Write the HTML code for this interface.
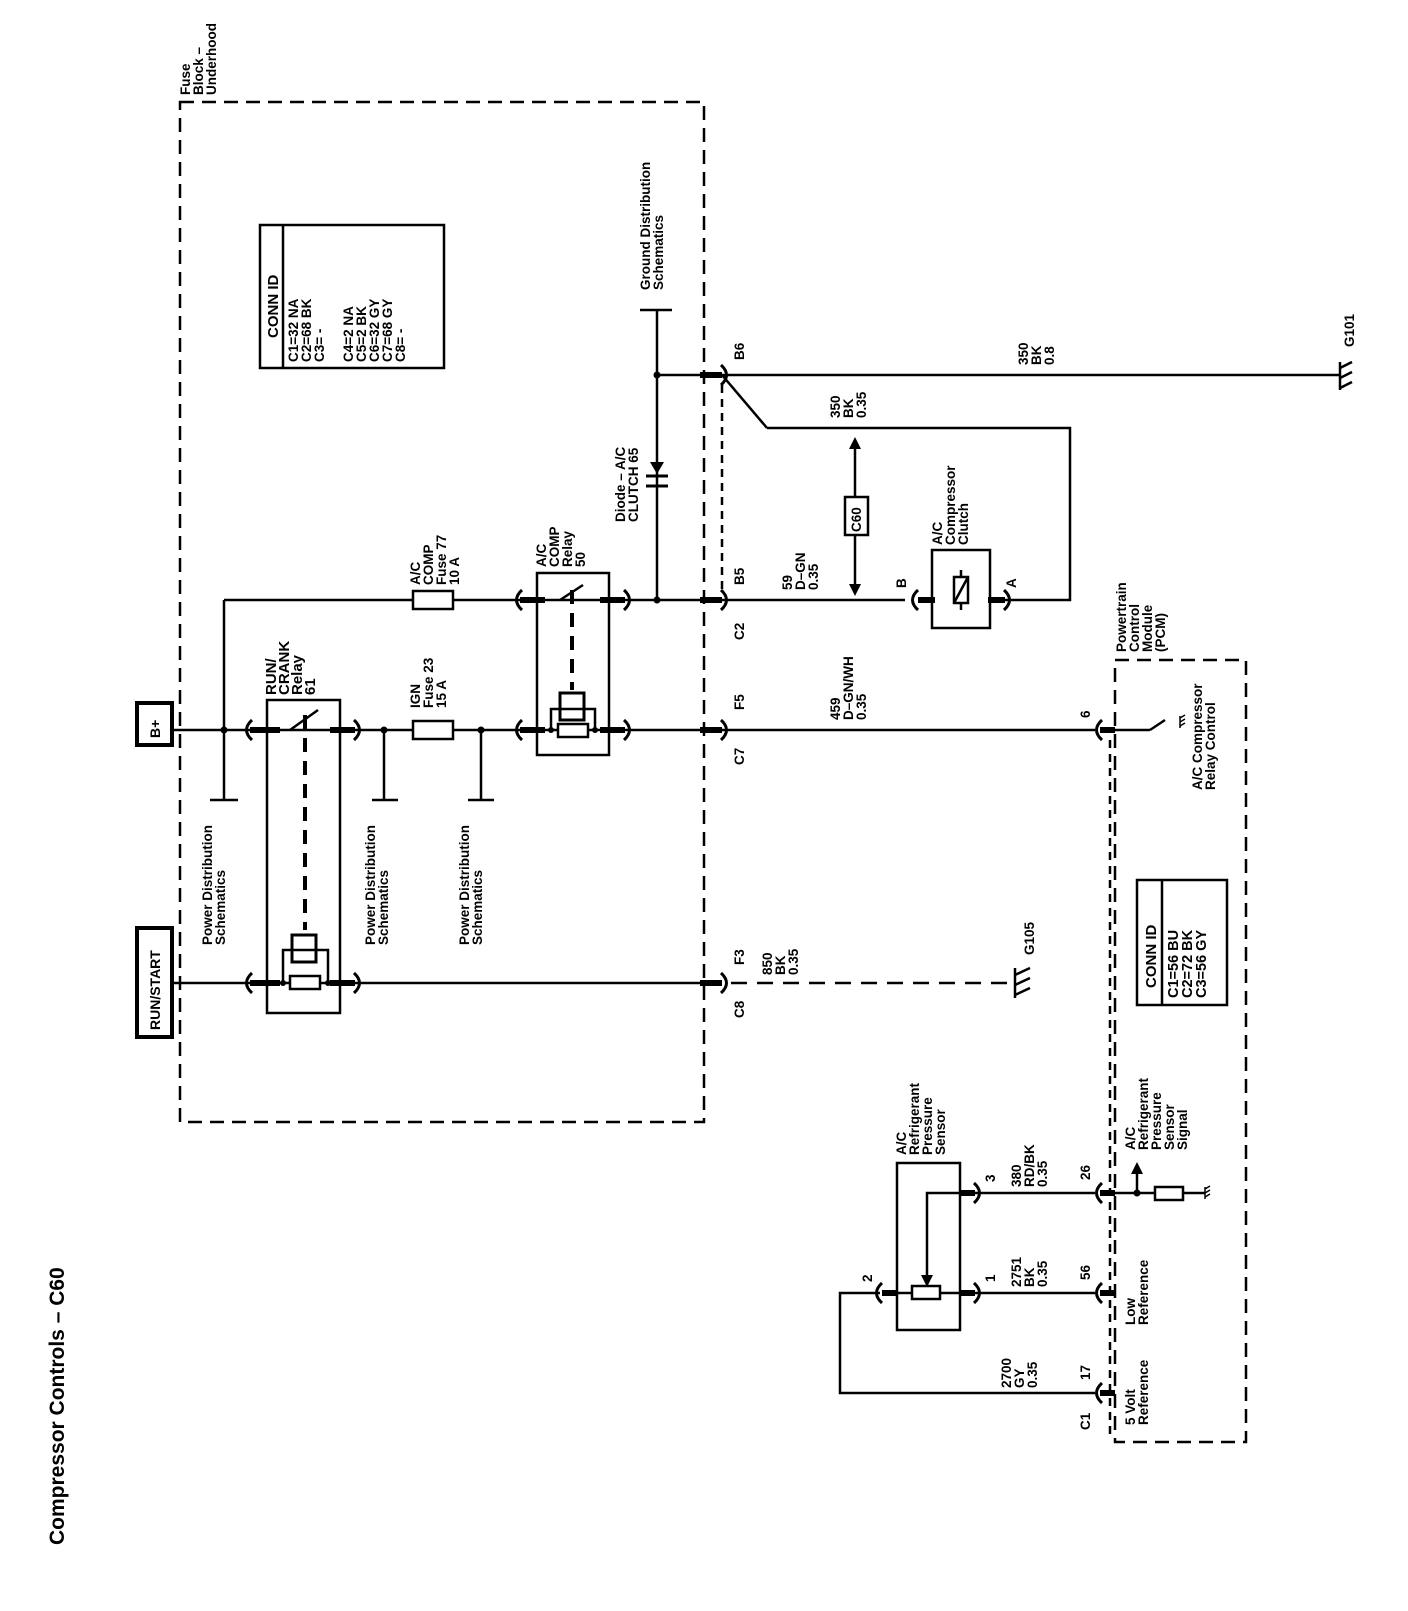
<!DOCTYPE html>
<html><head><meta charset="utf-8"><style>
html,body{margin:0;padding:0;background:#fff}
svg text{font-family:"Liberation Sans",sans-serif;font-size:13.5px;fill:#000;font-weight:bold}
</style></head><body>
<svg width="1408" height="1606" viewBox="0 0 1408 1606" xmlns="http://www.w3.org/2000/svg">
<defs>
<g id="cl"><path d="M6,-10 Q-5,0 6,10" fill="none" stroke="#000" stroke-width="3"/></g>
<g id="cr"><path d="M-6,-10 Q5,0 -6,10" fill="none" stroke="#000" stroke-width="3"/></g>
</defs>
<g fill="none" stroke="#000" stroke-width="2.5">
<rect x="180" y="102" width="524" height="1020" stroke-dasharray="14,8"/>
<rect x="1115" y="660" width="131" height="782" stroke-dasharray="14,8"/>
<rect x="137" y="703" width="35" height="42" stroke-width="4"/>
<rect x="137" y="928" width="35" height="109" stroke-width="4"/>
<rect x="260" y="225" width="184" height="143"/>
<line x1="283" y1="225" x2="283" y2="368"/>
<rect x="267" y="700" width="73" height="313"/>
<rect x="537" y="573" width="72" height="182"/>
<rect x="932" y="550" width="58" height="78"/>
<rect x="1137" y="880" width="90" height="125"/>
<line x1="1162" y1="880" x2="1162" y2="1005"/>
<rect x="897" y="1163" width="63" height="167"/>
<rect x="845" y="497" width="23" height="38"/>
<line x1="172" y1="730" x2="1095" y2="730"/>
<line x1="172" y1="983" x2="705" y2="983"/>
<line x1="705" y1="983" x2="1010" y2="983" stroke-dasharray="16,10"/>
<line x1="224" y1="600" x2="905" y2="600"/>
<line x1="224" y1="600" x2="224" y2="800"/>
<line x1="210" y1="800" x2="238" y2="800"/>
<line x1="384" y1="730" x2="384" y2="800"/>
<line x1="372" y1="800" x2="398" y2="800"/>
<line x1="481" y1="730" x2="481" y2="800"/>
<line x1="468" y1="800" x2="494" y2="800"/>
<line x1="655" y1="375" x2="1340" y2="375"/>
<line x1="657" y1="310" x2="657" y2="600"/>
<line x1="640" y1="310" x2="672" y2="310"/>
<line x1="722" y1="375" x2="767" y2="428"/>
<polyline points="767,428 1070,428 1070,600 1000,600"/>
<line x1="722" y1="385" x2="722" y2="590" stroke-dasharray="8,6"/>
<line x1="1110" y1="740" x2="1110" y2="1440" stroke-dasharray="8,6"/>
<line x1="855" y1="445" x2="855" y2="497"/>
<line x1="855" y1="535" x2="855" y2="588"/>
<line x1="305" y1="715" x2="305" y2="930" stroke-dasharray="14,9" stroke-width="4"/>
<line x1="572" y1="590" x2="572" y2="690" stroke-dasharray="14,9" stroke-width="4"/>
<line x1="290" y1="730" x2="318" y2="710"/>
<line x1="560" y1="600" x2="583" y2="585"/>
<rect x="292" y="935" width="24" height="27" stroke-width="3"/>
<rect x="560" y="693" width="24" height="27" stroke-width="3"/>
<polyline points="283,983 283,950 328,950 328,983"/>
<polyline points="551,730 551,709 595,709 595,730"/>
<rect x="290" y="976" width="30" height="13" fill="#fff"/>
<rect x="558" y="724" width="30" height="13" fill="#fff"/>
<rect x="413" y="591" width="40" height="18" fill="#fff"/>
<rect x="413" y="721" width="40" height="18" fill="#fff"/>
<line x1="961" y1="570" x2="961" y2="610"/>
<rect x="954" y="577" width="14" height="26" fill="#fff"/>
<line x1="954" y1="603" x2="968" y2="577"/>
<line x1="960" y1="1193" x2="1095" y2="1193"/>
<line x1="960" y1="1293" x2="1095" y2="1293"/>
<polyline points="880,1293 840,1293 840,1393 1095,1393"/>
<polyline points="960,1193 927,1193 927,1280"/>
<rect x="912" y="1286" width="28" height="13" fill="#fff"/>
<line x1="897" y1="1293" x2="912" y2="1293"/>
<line x1="940" y1="1293" x2="960" y2="1293"/>
<line x1="1110" y1="730" x2="1150" y2="730"/>
<line x1="1150" y1="730" x2="1165" y2="720"/>
<line x1="1110" y1="1193" x2="1155" y2="1193"/>
<rect x="1155" y="1187" width="28" height="13"/>
<line x1="1183" y1="1193" x2="1205" y2="1193"/>
<line x1="1137" y1="1193" x2="1137" y2="1170"/>
<line x1="1340" y1="362" x2="1340" y2="390"/>
<line x1="1340" y1="368" x2="1352" y2="362"/><line x1="1340" y1="378" x2="1352" y2="372"/><line x1="1340" y1="388" x2="1352" y2="382"/>
<line x1="1015" y1="968" x2="1015" y2="998"/>
<line x1="1015" y1="975" x2="1030" y2="968"/><line x1="1015" y1="985" x2="1030" y2="978"/><line x1="1015" y1="995" x2="1030" y2="988"/>
<g stroke-width="1.5">
<line x1="1180" y1="716" x2="1180" y2="728"/><line x1="1180" y1="718" x2="1185" y2="715"/><line x1="1180" y1="722" x2="1185" y2="719"/><line x1="1180" y1="726" x2="1185" y2="723"/>
<line x1="1205" y1="1187" x2="1205" y2="1199"/><line x1="1205" y1="1189" x2="1210" y2="1186"/><line x1="1205" y1="1193" x2="1210" y2="1190"/><line x1="1205" y1="1197" x2="1210" y2="1194"/>
</g>
</g>
<polygon points="855,437 849,449 861,449"/>
<polygon points="855,596 849,584 861,584"/>
<polygon points="927,1287 921,1275 933,1275"/>
<polygon points="1137,1162 1131,1174 1143,1174"/>
<polygon points="650,462 664,462 657,474"/>
<line x1="646" y1="476" x2="668" y2="476" stroke="#000" stroke-width="3"/>
<line x1="646" y1="486" x2="668" y2="486" stroke="#000" stroke-width="3"/>
<g fill="#000">
<circle cx="224" cy="730" r="3.5"/><circle cx="384" cy="730" r="3.5"/><circle cx="481" cy="730" r="3.5"/>
<circle cx="657" cy="600" r="3.5"/><circle cx="657" cy="375" r="3.5"/><circle cx="1137" cy="1193" r="3.5"/>
<circle cx="283" cy="983" r="3"/><circle cx="328" cy="983" r="3"/><circle cx="551" cy="730" r="3"/><circle cx="595" cy="730" r="3"/>
</g>
<g stroke="#000" stroke-width="6">
<line x1="250" y1="730" x2="280" y2="730"/><line x1="330" y1="730" x2="355" y2="730"/>
<line x1="250" y1="983" x2="280" y2="983"/><line x1="330" y1="983" x2="355" y2="983"/>
<line x1="520" y1="600" x2="545" y2="600"/><line x1="600" y1="600" x2="625" y2="600"/>
<line x1="520" y1="730" x2="545" y2="730"/><line x1="600" y1="730" x2="625" y2="730"/>
<line x1="700" y1="375" x2="722" y2="375"/><line x1="700" y1="600" x2="722" y2="600"/>
<line x1="700" y1="730" x2="722" y2="730"/><line x1="700" y1="983" x2="722" y2="983"/>
<line x1="918" y1="600" x2="935" y2="600"/><line x1="988" y1="600" x2="1005" y2="600"/>
<line x1="1100" y1="730" x2="1115" y2="730"/><line x1="1100" y1="1193" x2="1115" y2="1193"/>
<line x1="1100" y1="1293" x2="1115" y2="1293"/><line x1="1100" y1="1393" x2="1115" y2="1393"/>
<line x1="960" y1="1193" x2="975" y2="1193"/><line x1="960" y1="1293" x2="975" y2="1293"/>
<line x1="882" y1="1293" x2="897" y2="1293"/>
</g>
<use href="#cl" x="246" y="730"/><use href="#cr" x="360" y="730"/>
<use href="#cl" x="246" y="983"/><use href="#cr" x="360" y="983"/>
<use href="#cl" x="516" y="600"/><use href="#cr" x="630" y="600"/>
<use href="#cl" x="516" y="730"/><use href="#cr" x="630" y="730"/>
<use href="#cr" x="727" y="375"/><use href="#cr" x="727" y="600"/><use href="#cr" x="727" y="730"/><use href="#cr" x="727" y="983"/>
<use href="#cl" x="912" y="600"/><use href="#cr" x="1010" y="600"/>
<use href="#cl" x="1096" y="730"/><use href="#cl" x="1096" y="1193"/><use href="#cl" x="1096" y="1293"/><use href="#cl" x="1096" y="1393"/>
<use href="#cr" x="980" y="1193"/><use href="#cr" x="980" y="1293"/><use href="#cl" x="876" y="1293"/>
<text transform="translate(64,1545) rotate(-90)" style="font-size:21px">Compressor Controls – C60</text>
<text transform="translate(190,95) rotate(-90)">Fuse</text>
<text transform="translate(203,95) rotate(-90)">Block –</text>
<text transform="translate(216,95) rotate(-90)">Underhood</text>
<text transform="translate(160,738) rotate(-90)" style="font-size:14px">B+</text>
<text transform="translate(160,1030) rotate(-90)" style="font-size:14px">RUN/START</text>
<text transform="translate(278,338) rotate(-90)" style="font-size:15px">CONN ID</text>
<text transform="translate(298,362) rotate(-90)">C1=32 NA</text>
<text transform="translate(311,362) rotate(-90)">C2=68 BK</text>
<text transform="translate(324,362) rotate(-90)">C3= -</text>
<text transform="translate(353,362) rotate(-90)">C4=2 NA</text>
<text transform="translate(366,362) rotate(-90)">C5=2 BK</text>
<text transform="translate(379,362) rotate(-90)">C6=32 GY</text>
<text transform="translate(392,362) rotate(-90)">C7=68 GY</text>
<text transform="translate(405,362) rotate(-90)">C8= -</text>
<text transform="translate(212,945) rotate(-90)">Power Distribution</text>
<text transform="translate(225,945) rotate(-90)">Schematics</text>
<text transform="translate(375,945) rotate(-90)">Power Distribution</text>
<text transform="translate(388,945) rotate(-90)">Schematics</text>
<text transform="translate(469,945) rotate(-90)">Power Distribution</text>
<text transform="translate(482,945) rotate(-90)">Schematics</text>
<text transform="translate(276,695) rotate(-90)" style="font-size:15px">RUN/</text>
<text transform="translate(289,695) rotate(-90)" style="font-size:15px">CRANK</text>
<text transform="translate(302,695) rotate(-90)" style="font-size:15px">Relay</text>
<text transform="translate(315,695) rotate(-90)" style="font-size:15px">61</text>
<text transform="translate(420,708) rotate(-90)">IGN</text>
<text transform="translate(433,708) rotate(-90)">Fuse 23</text>
<text transform="translate(446,708) rotate(-90)">15 A</text>
<text transform="translate(420,585) rotate(-90)">A/C</text>
<text transform="translate(433,585) rotate(-90)">COMP</text>
<text transform="translate(446,585) rotate(-90)">Fuse 77</text>
<text transform="translate(459,585) rotate(-90)">10 A</text>
<text transform="translate(546,567) rotate(-90)">A/C</text>
<text transform="translate(559,567) rotate(-90)">COMP</text>
<text transform="translate(572,567) rotate(-90)">Relay</text>
<text transform="translate(585,567) rotate(-90)">50</text>
<text transform="translate(625,522) rotate(-90)">Diode – A/C</text>
<text transform="translate(638,522) rotate(-90)">CLUTCH 65</text>
<text transform="translate(650,290) rotate(-90)">Ground Distribution</text>
<text transform="translate(663,290) rotate(-90)">Schematics</text>
<text transform="translate(744,360) rotate(-90)">B6</text>
<text transform="translate(744,585) rotate(-90)">B5</text>
<text transform="translate(744,640) rotate(-90)">C2</text>
<text transform="translate(744,710) rotate(-90)">F5</text>
<text transform="translate(744,765) rotate(-90)">C7</text>
<text transform="translate(744,965) rotate(-90)">F3</text>
<text transform="translate(744,1018) rotate(-90)">C8</text>
<text transform="translate(1028,365) rotate(-90)">350</text>
<text transform="translate(1041,365) rotate(-90)">BK</text>
<text transform="translate(1054,365) rotate(-90)">0.8</text>
<text transform="translate(840,418) rotate(-90)">350</text>
<text transform="translate(853,418) rotate(-90)">BK</text>
<text transform="translate(866,418) rotate(-90)">0.35</text>
<text transform="translate(792,590) rotate(-90)">59</text>
<text transform="translate(805,590) rotate(-90)">D–GN</text>
<text transform="translate(818,590) rotate(-90)">0.35</text>
<text transform="translate(840,720) rotate(-90)">459</text>
<text transform="translate(853,720) rotate(-90)">D–GN/WH</text>
<text transform="translate(866,720) rotate(-90)">0.35</text>
<text transform="translate(772,975) rotate(-90)">850</text>
<text transform="translate(785,975) rotate(-90)">BK</text>
<text transform="translate(798,975) rotate(-90)">0.35</text>
<text transform="translate(861,532) rotate(-90)">C60</text>
<text transform="translate(942,545) rotate(-90)">A/C</text>
<text transform="translate(955,545) rotate(-90)">Compressor</text>
<text transform="translate(968,545) rotate(-90)">Clutch</text>
<text transform="translate(906,588) rotate(-90)">B</text>
<text transform="translate(1016,588) rotate(-90)">A</text>
<text transform="translate(1354,347) rotate(-90)">G101</text>
<text transform="translate(1034,955) rotate(-90)">G105</text>
<text transform="translate(1126,652) rotate(-90)">Powertrain</text>
<text transform="translate(1139,652) rotate(-90)">Control</text>
<text transform="translate(1152,652) rotate(-90)">Module</text>
<text transform="translate(1165,652) rotate(-90)">(PCM)</text>
<text transform="translate(1202,790) rotate(-90)">A/C Compressor</text>
<text transform="translate(1215,790) rotate(-90)">Relay Control</text>
<text transform="translate(1090,718) rotate(-90)">6</text>
<text transform="translate(1156,988) rotate(-90)" style="font-size:15px">CONN ID</text>
<text transform="translate(1178,998) rotate(-90)" style="font-size:14.5px">C1=56 BU</text>
<text transform="translate(1192,998) rotate(-90)" style="font-size:14.5px">C2=72 BK</text>
<text transform="translate(1206,998) rotate(-90)" style="font-size:14.5px">C3=56 GY</text>
<text transform="translate(906,1155) rotate(-90)">A/C</text>
<text transform="translate(919,1155) rotate(-90)">Refrigerant</text>
<text transform="translate(932,1155) rotate(-90)">Pressure</text>
<text transform="translate(945,1155) rotate(-90)">Sensor</text>
<text transform="translate(995,1182) rotate(-90)">3</text>
<text transform="translate(995,1282) rotate(-90)">1</text>
<text transform="translate(872,1282) rotate(-90)">2</text>
<text transform="translate(1021,1187) rotate(-90)">380</text>
<text transform="translate(1034,1187) rotate(-90)">RD/BK</text>
<text transform="translate(1047,1187) rotate(-90)">0.35</text>
<text transform="translate(1021,1287) rotate(-90)">2751</text>
<text transform="translate(1034,1287) rotate(-90)">BK</text>
<text transform="translate(1047,1287) rotate(-90)">0.35</text>
<text transform="translate(1011,1388) rotate(-90)">2700</text>
<text transform="translate(1024,1388) rotate(-90)">GY</text>
<text transform="translate(1037,1388) rotate(-90)">0.35</text>
<text transform="translate(1090,1180) rotate(-90)">26</text>
<text transform="translate(1090,1280) rotate(-90)">56</text>
<text transform="translate(1090,1380) rotate(-90)">17</text>
<text transform="translate(1090,1430) rotate(-90)">C1</text>
<text transform="translate(1135,1150) rotate(-90)">A/C</text>
<text transform="translate(1148,1150) rotate(-90)">Refrigerant</text>
<text transform="translate(1161,1150) rotate(-90)">Pressure</text>
<text transform="translate(1174,1150) rotate(-90)">Sensor</text>
<text transform="translate(1187,1150) rotate(-90)">Signal</text>
<text transform="translate(1135,1325) rotate(-90)">Low</text>
<text transform="translate(1148,1325) rotate(-90)">Reference</text>
<text transform="translate(1135,1425) rotate(-90)">5 Volt</text>
<text transform="translate(1148,1425) rotate(-90)">Reference</text>
</svg>
</body></html>
